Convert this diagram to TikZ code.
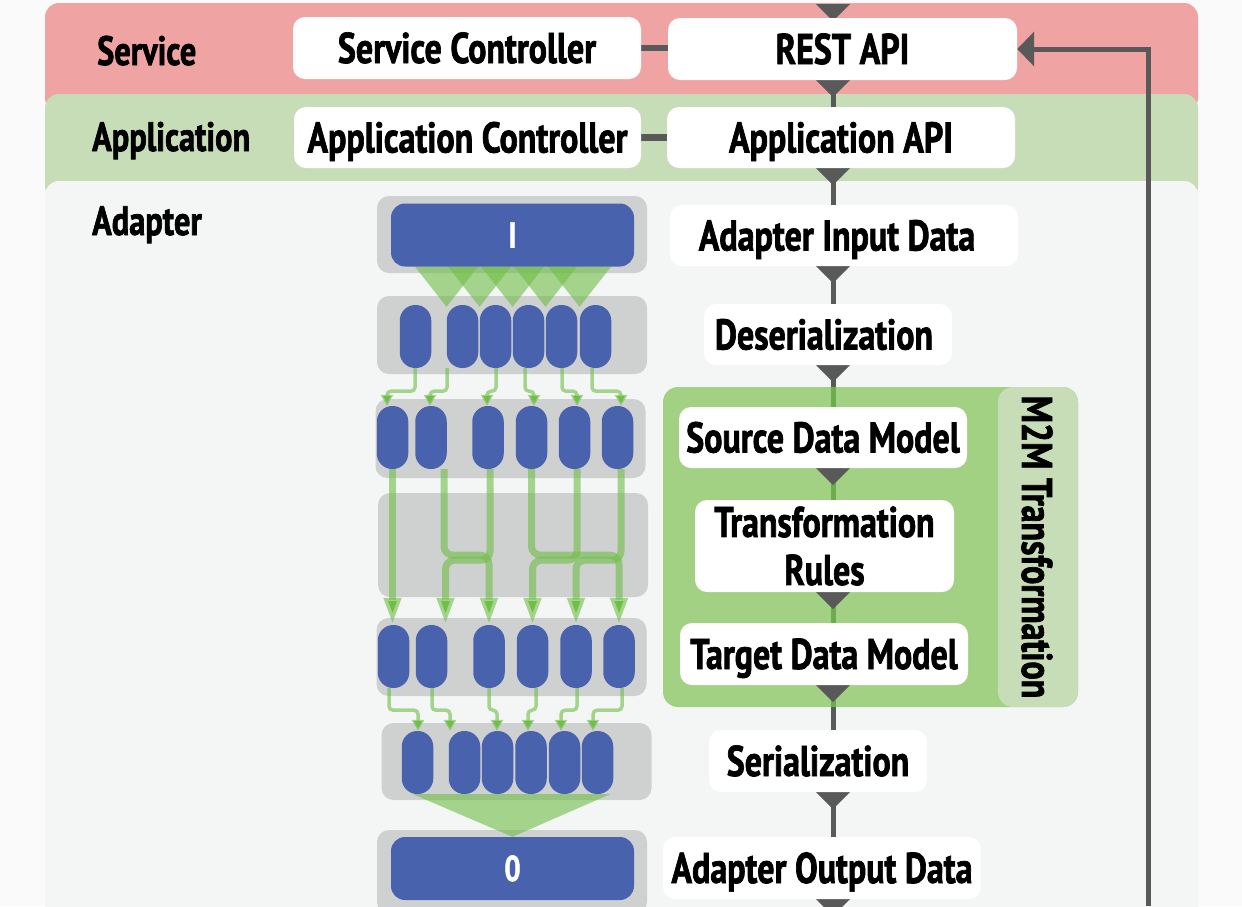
\documentclass[tikz,border=0pt]{standalone}
\usepackage{fontspec}
\usetikzlibrary{calc,arrows.meta,decorations.markings}
\newfontfamily\cond{PT Sans}[FakeStretch=0.79,FakeBold=1.6]
\newcommand\boxfont{\cond\bfseries\fontsize{43}{48}\selectfont}
\newcommand\layerfont{\cond\bfseries\fontsize{41}{46}\selectfont}
\newcommand\blockfont{\cond\bfseries\fontsize{36}{40}\selectfont}

\definecolor{outerbg}{HTML}{FAFAFA}
\definecolor{pinkband}{HTML}{F0A3A3}
\definecolor{appband}{HTML}{C7DDB8}
\definecolor{adband}{HTML}{F4F6F5}
\definecolor{m2mgreen}{HTML}{A2D183}
\definecolor{m2mside}{HTML}{C7DDB8}
\definecolor{dgray}{HTML}{595959}
\definecolor{blockblue}{HTML}{4862AD}
\definecolor{slot}{HTML}{CFD0D0}
\definecolor{flowgreen}{HTML}{6FBE47}
\definecolor{innerline}{HTML}{6AAE4C}

\pgfdeclarelayer{back}
\pgfdeclarelayer{mid}
\pgfsetlayers{back,mid,main}

\begin{document}
\begin{tikzpicture}[x=1pt,y=-1pt,
  wbox/.style={fill=white, rounded corners=12pt, inner sep=0pt, font=\boxfont,
    text height=30pt, text depth=0pt, align=center},
  lbl/.style={font=\layerfont, anchor=base west, inner sep=0pt},
  slotbox/.style={fill=slot, rounded corners=12pt, inner sep=0pt, minimum width=270pt},
  blk/.style={fill=blockblue, rounded corners=15.5pt, inner sep=0pt,
    minimum width=31.5pt, minimum height=63pt},
  bigblue/.style={fill=blockblue, rounded corners=14pt, inner sep=0pt,
    minimum width=243pt, minimum height=63pt, text=white, font=\blockfont,
    text height=25pt, text depth=0pt},
  fan/.style={fill=flowgreen, fill opacity=0.6},
  smallconn/.style={draw=flowgreen, draw opacity=0.6, line width=3.5pt, rounded corners=4pt,
    -{Triangle[width=12pt,length=11pt]}},
  bigconn/.style={draw=flowgreen, draw opacity=0.6, line width=7pt, rounded corners=9pt,
    -{Triangle[width=16pt,length=27pt]}},
  flow/.style={draw=dgray, line width=5pt},
  flowin/.style={draw=innerline, line width=5pt},
  flowtri/.style={decorate, decoration={markings,
    mark=at position 0.01pt with {\fill[dgray] (0,-17) -- (0,17) -- (17,0) -- cycle;}}},
  link/.style={draw=dgray, line width=6.5pt},
  fbline/.style={draw=dgray, line width=5pt, -{Triangle[width=34pt,length=17pt]}}
]
\useasboundingbox (0,0) rectangle (1242,906);

% ---------- layer bands ----------
\begin{pgfonlayer}{back}
  \fill[outerbg] (0,0) rectangle (1242,906);
  \fill[pinkband, rounded corners=14pt] (45,3) rectangle (1198,112);
  \fill[appband, rounded corners=14pt] (45,94) rectangle (1198,200);
  \fill[adband, rounded corners=14pt] (45,181) rectangle (1198,940);

  % slots of the data pipeline
  \node[slotbox, minimum height=77pt] (s1) at (512,234.5) {};
  \node[slotbox, minimum height=78pt] (s2) at (512,335) {};
  \node[slotbox, minimum height=79pt] (s3) at (510.5,438.5) {};
  \node[slotbox, minimum height=104pt] (s4) at (513,545) {};
  \node[slotbox, minimum height=78pt] (s5) at (511.5,657) {};
  \node[slotbox, minimum height=77pt] (s6) at (516.5,761.5) {};
  \node[slotbox, minimum height=84pt] (s7) at (512,872) {};

  % model-to-model transformation group
  \node[fill=m2mgreen, rounded corners=15pt, inner sep=0pt,
        minimum width=415pt, minimum height=320pt] (m2m) at (870.5,547) {};
  \node[fill=m2mside, rounded corners=15pt, inner sep=0pt,
        minimum width=80pt, minimum height=320pt, anchor=east] (m2mpanel) at (m2m.east) {};
\end{pgfonlayer}

% ---------- layer titles ----------
\node[lbl] (lsvc) at (97,65) {Service};
\node[lbl] (lapp) at (92,151) {Application};
\node[lbl] (lad)  at (92,235) {Adapter};

% ---------- white boxes ----------
\node[wbox, minimum width=348pt, minimum height=62pt] (svc)    at (467,48)    {Service Controller};
\node[wbox, minimum width=349pt, minimum height=62pt] (rest)   at (842.5,49)  {REST API};
\node[wbox, minimum width=347pt, minimum height=61pt] (appc)   at (467.5,137.5) {Application Controller};
\node[wbox, minimum width=348pt, minimum height=61pt] (appapi) at (841,137.5) {Application API};
\node[wbox, minimum width=348pt, minimum height=61pt] (ain)    at (844,235.5) {Adapter Input Data\hspace*{14pt}};
\node[wbox, minimum width=248pt, minimum height=61pt] (deser)  at (828,334.5) {Deserialization\hspace*{8pt}};
\node[wbox, minimum width=288pt, minimum height=61pt] (src)    at (823,437.5) {Source Data Model};
\node[wbox, minimum width=259pt, minimum height=92pt, text height=, text depth=] (rules) at (824.5,546) {Transformation\\Rules};
\node[wbox, minimum width=288pt, minimum height=62pt] (tgt)    at (824,654)   {Target Data Model};
\node[wbox, minimum width=218pt, minimum height=62pt] (ser)    at (818,761)   {Serialization};
\node[wbox, minimum width=318pt, minimum height=62pt] (aout)   at (822,868)   {Adapter Output Data};

\node[rotate=-90, font=\boxfont, inner sep=0pt, text height=30pt, text depth=0pt]
  (m2mlbl) at (1037,547) {M2M Transformation};

% ---------- data pipeline blocks ----------
\node[bigblue] (inb)  at (512.5,235)   {I};
\node[bigblue] (outb) at (512.5,868.5) {0};

\foreach \i/\x in {1/415.5, 2/462.5, 3/495.5, 4/528.5, 5/561.5, 6/595.5}
  \node[blk] (r2b\i) at (\x,336.5) {};
\foreach \i/\x in {1/392.5, 2/431, 3/488, 4/531.5, 5/574.5, 6/617.5}
  \node[blk] (r3b\i) at (\x,437.5) {};
\foreach \i/\x in {1/393.5, 2/431.5, 3/489, 4/532.5, 5/576, 6/619}
  \node[blk] (r5b\i) at (\x,656.5) {};
\foreach \i/\x in {1/417.5, 2/464.5, 3/497.5, 4/531, 5/564.5, 6/597.5}
  \node[blk] (r6b\i) at (\x,762.5) {};

\coordinate (fx) at (833,0);
\coordinate (ftop) at (833,4);
\coordinate (fbot) at (833,906);
\coordinate (fbstart) at (1148,906);

\begin{pgfonlayer}{mid}
  % splitting the input into parts
  \foreach \k in {2,...,6}
    \fill[fan] ($(r2b\k.north west |- inb.south)+(-31.5,0)$)
            -- ($(r2b\k.north west |- inb.south)+(31.5,0)$)
            -- ($(r2b\k.north west)+(0,2)$) -- cycle;

  % parts into the source model
  \foreach \s/\so/\t/\to in {1/-0.5/1/-5.5, 2/-15.5/2/-1, 3/0.5/3/-1,
                             4/-3.5/4/2.5, 5/0.5/5/2.5, 6/-3.5/6/3.5}
    \draw[smallconn] ([xshift=\so]r2b\s.south) -- ++(0,23) -| ([xshift=\to]r3b\t.north);

  % the transformation: source parts to target parts
  \draw[bigconn] (r3b1.south) -- (r3b1.south |- r5b1.north);
  \draw[bigconn] ([xshift=13]r3b2.south) -- ++(0,86) -| (r5b3.north);
  \draw[bigconn] ([xshift=2]r3b3.south) -- ++(0,91) -| ([xshift=14]r5b2.north);
  \draw[bigconn] (r3b4.south) -- ++(0,86) -| (r5b6.north);
  \draw[bigconn] ([xshift=2.5]r3b5.south) -- ++(0,91) -| (r5b4.north);
  \draw[bigconn] ([xshift=3.5]r3b6.south) -- ++(0,91) -| (r5b5.north);

  % target model into output parts
  \foreach \s/\so/\t/\to in {1/-4.5/1/0.5, 2/0.5/2/-14.5, 3/0/3/-0.5,
                             4/3.5/4/-3, 5/1/5/-3.5, 6/3/6/-4.5}
    \draw[smallconn] ([xshift=\so]r5b\s.south) -- ++(0,22) -| ([xshift=\to]r6b\t.north);

  % merging the parts into the output
  \fill[fan] ($(r6b1.south)+(-4.5,0)$) -- ($(r6b6.south)+(12.5,0)$) -- (outb.north) -- cycle;

  % main processing chain
  \draw[flow] (ftop) -- (rest.north -| fx);
  \foreach \a/\b in {rest/appapi, appapi/ain, ain/deser, deser/src, src/rules,
                     rules/tgt, tgt/ser, ser/aout}
    \draw[flow] (\a.south -| fx) -- (\b.north -| fx);
  \draw[flow] (aout.south -| fx) -- (fbot);

  \begin{scope}
    \clip[rounded corners=15pt] (m2m.north west) rectangle (m2m.south east);
    \foreach \a/\b in {deser/src, src/rules, rules/tgt, tgt/ser}
      \draw[flowin] (\a.south -| fx) -- (\b.north -| fx);
  \end{scope}

  \path[flowtri] (ftop) -- (rest.north -| fx);
  \foreach \a/\b in {rest/appapi, appapi/ain, ain/deser, deser/src, src/rules,
                     rules/tgt, tgt/ser, ser/aout}
    \path[flowtri] (\a.south -| fx) -- (\b.north -| fx);
  \path[flowtri] (aout.south -| fx) -- (fbot);

  % controllers and their interfaces
  \draw[link] (svc.east) -- (svc.east -| rest.west);
  \draw[link] (appc.east) -- (appc.east -| appapi.west);

  % output fed back to the REST interface
  \draw[fbline] (fbstart) |- (rest.east);
\end{pgfonlayer}
\end{tikzpicture}
\end{document}
